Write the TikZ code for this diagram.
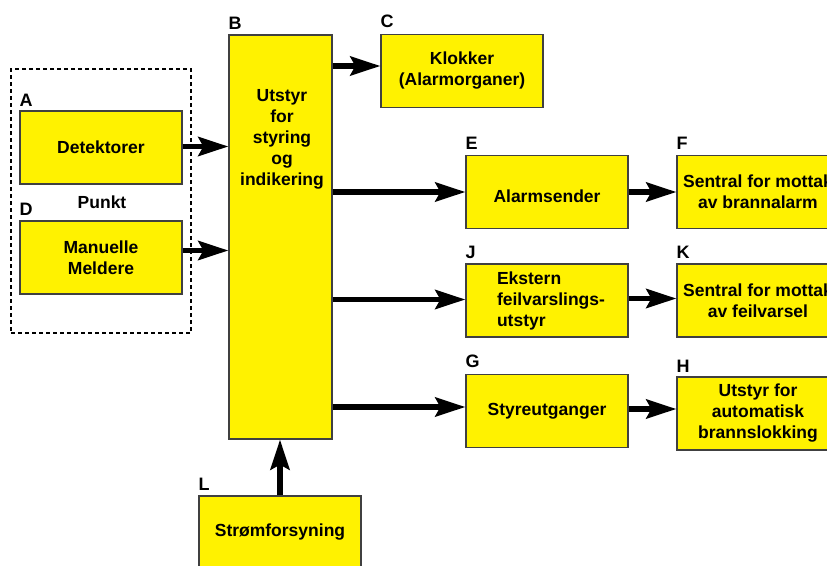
\documentclass[tikz,border=0pt]{standalone}
\usepackage{fontspec}
\setmainfont{Liberation Sans}
\usetikzlibrary{arrows.meta}
\tikzset{
  box/.style={draw=black!75, line width=1.2pt, fill=yellow, minimum width=162pt, minimum height=73pt, inner sep=0pt, align=center, font=\fontsize{17.5}{21}\selectfont\bfseries},
  lbl/.style={anchor=south west, inner sep=0pt, font=\fontsize{18}{20}\selectfont\bfseries},
  arr/.style={line width=5.5pt, -{Stealth[length=30pt,width=19pt,inset=5pt]}},
  grpbox/.style={draw=black, line width=1.5pt, dash pattern=on 4pt off 3pt, minimum width=180pt, minimum height=264pt, inner sep=0pt},
  txt/.style={inner sep=0pt, font=\fontsize{17.5}{21}\selectfont\bfseries}
}
\begin{document}
\begin{tikzpicture}[x=1pt, y=-1pt]
\useasboundingbox (0,0) rectangle (827,565);
\clip (0,0) rectangle (827,565);
% group frame
\node[grpbox] (grp) at (101,201) {};
\node[txt] (punkt) at (102,202) {Punkt};
% boxes
\node[box] (A) at (101,147.5) {Detektorer};
\node[box] (D) at (101,257.5) {Manuelle\\Meldere};
\node[box, minimum width=103pt, minimum height=404pt] (B) at (280.5,237) {};
\node[txt, align=center] (Btext) at (282,139) {Utstyr\\for\\styring\\og\\indikering};
\node[box] (C) at (462,71) {Klokker\\(Alarmorganer)};
\node[box, text height=20.5pt, text depth=0pt] (E) at (547,192) {Alarmsender};
\node[box] (F) at (758,192) {Sentral for mottak\\av brannalarm};
\node[box, align=left] (J) at (547,300.5) {\hspace*{8pt}Ekstern\\\hspace*{8pt}feilvarslings-\\\hspace*{8pt}utstyr};
\node[box] (K) at (758,300.5) {Sentral for mottak\\av feilvarsel};
\node[box] (G) at (547,411) {Styreutganger};
\node[box] (H) at (758,413.5) {Utstyr for\\automatisk\\brannslokking};
\node[box] (L) at (280,532.5) {Strømforsyning};
% labels
\node[lbl] (lA) at ([yshift=4pt]A.north west) {A};
\node[lbl] (lD) at ([yshift=5pt]D.north west) {D};
\node[lbl] (lB) at ([yshift=5pt]B.north west) {B};
\node[lbl] (lC) at ([yshift=6pt]C.north west) {C};
\node[lbl] (lE) at ([yshift=5pt]E.north west) {E};
\node[lbl] (lF) at ([yshift=5pt]F.north west) {F};
\node[lbl] (lJ) at ([yshift=5pt]J.north west) {J};
\node[lbl] (lK) at ([yshift=5pt]K.north west) {K};
\node[lbl] (lG) at ([yshift=6pt]G.north west) {G};
\node[lbl] (lH) at ([yshift=4pt]H.north west) {H};
\node[lbl] (lL) at ([yshift=5pt]L.north west) {L};
% arrows
\draw[arr] ([yshift=1pt]A.east) -- ([yshift=1pt]A.east -| B.west);
\draw[arr] ([yshift=7pt]D.east) -- ([yshift=7pt]D.east -| B.west);
\draw[arr] ([yshift=5pt]C.west -| B.east) -- ([yshift=5pt]C.west);
\draw[arr] (E.west -| B.east) -- (E.west);
\draw[arr] (E.east) -- (F.west);
\draw[arr] ([yshift=1pt]J.west -| B.east) -- ([yshift=1pt]J.west);
\draw[arr] ([yshift=2pt]J.east) -- ([yshift=2pt]J.east -| K.west);
\draw[arr] ([yshift=4pt]G.west -| B.east) -- ([yshift=4pt]G.west);
\draw[arr] ([yshift=2pt]G.east) -- ([yshift=2pt]G.east -| H.west);
\draw[arr] (L.north) -- (L.north |- B.south);
\end{tikzpicture}
\end{document}
